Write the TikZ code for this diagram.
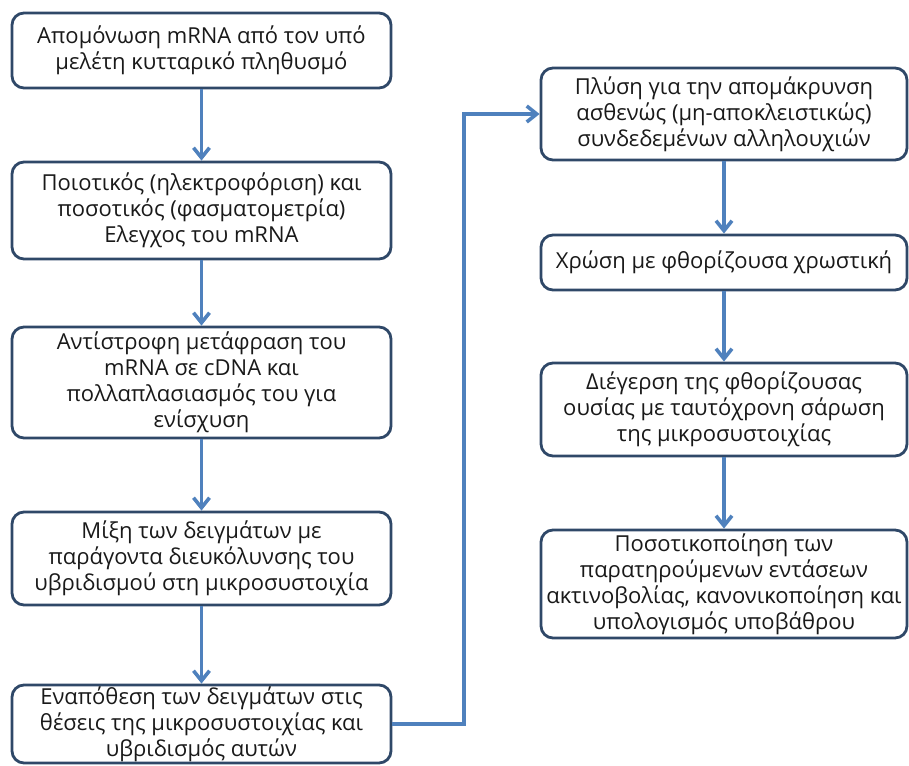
\documentclass[tikz,border=0pt]{standalone}
\usepackage{fontspec}
\setmainfont{Open Sans}
\usetikzlibrary{arrows.meta}
\definecolor{boxline}{RGB}{47,72,104}
\definecolor{arrowblue}{RGB}{79,129,189}
\tikzset{
    stepbox/.style={draw=boxline, line width=1.4pt, rounded corners=6pt, align=center,
        inner sep=0pt, text=black!90, font=\fontsize{11}{13}\selectfont},
    leftbox/.style={stepbox, minimum width=189.5pt},
    rightbox/.style={stepbox, minimum width=183pt},
    flow/.style={draw=arrowblue, line width=1.8pt, -{Straight Barb[length=5pt,width=8pt]}}
}
\begin{document}
\begin{tikzpicture}[x=0.5pt,y=-0.5pt]
    \useasboundingbox (0,0) rectangle (909,765);
    
    \node[leftbox, minimum height=37.5pt] (L1) at (201.5,50.5)
        {Απομόνωση mRNA από τον υπό\\μελέτη κυτταρικό πληθυσμό};
    \node[leftbox, minimum height=48.5pt] (L2) at (201.5,210.5)
        {Ποιοτικός (ηλεκτροφόριση) και\\ποσοτικός (φασματομετρία)\\Ελεγχος του mRNA};
    \node[leftbox, minimum height=55.5pt] (L3) at (201.5,382.5)
        {Αντίστροφη μετάφραση του\\mRNA σε cDNA και\\πολλαπλασιασμός του για\\ενίσχυση};
    \node[leftbox, minimum height=46.5pt] (L4) at (201.5,558.5)
        {Μίξη των δειγμάτων με\\παράγοντα διευκόλυνσης του\\υβριδισμού στη μικροσυστοιχία};
    \node[leftbox, minimum height=39pt] (L5) at (201.5,724)
        {Εναπόθεση των δειγμάτων στις\\θέσεις της μικροσυστοιχίας και\\υβριδισμός αυτών};
    
    \node[rightbox, minimum height=46pt] (R1) at (724,114)
        {Πλύση για την απομάκρυνση\\ασθενώς (μη-αποκλειστικώς)\\συνδεδεμένων αλληλουχιών};
    \node[rightbox, minimum height=27.5pt] (R2) at (724,262.5)
        {Χρώση με φθορίζουσα χρωστική};
    \node[rightbox, minimum height=46.5pt] (R3) at (724,409.5)
        {Διέγερση της φθορίζουσας\\ουσίας με ταυτόχρονη σάρωση\\της μικροσυστοιχίας};
    \node[rightbox, minimum height=54pt] (R4) at (724,584)
        {Ποσοτικοποίηση των\\παρατηρούμενων εντάσεων\\ακτινοβολίας, κανονικοποίηση και\\υπολογισμός υποβάθρου};
    
    \foreach \a/\b in {L1/L2,L2/L3,L3/L4,L4/L5,R1/R2,R2/R3,R3/R4} {\draw[flow] (\a.south) -- (\b.north);}
    
    \coordinate (turn) at (464,724);
    \draw[flow] (L5.east) -- (turn) |- (R1.west);
\end{tikzpicture}
\end{document}
